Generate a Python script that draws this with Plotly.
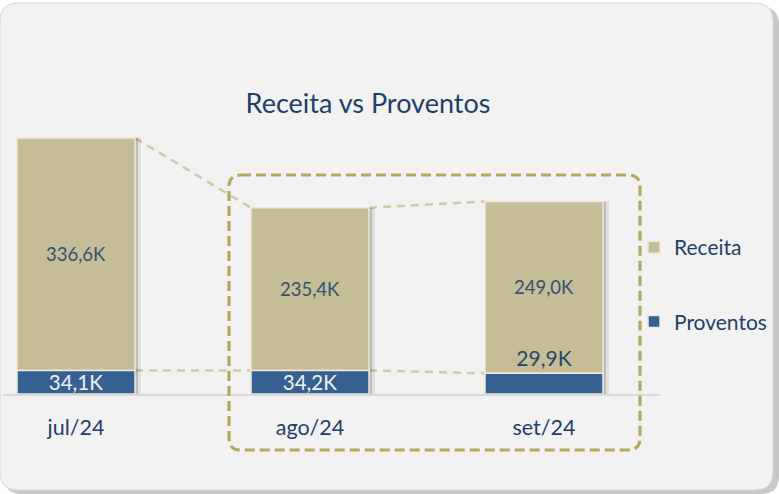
import plotly.graph_objects as go

# ---- data ----
months = ["jul/24", "ago/24", "set/24"]
receita = [336.6, 235.4, 249.0]
proventos = [34.1, 34.2, 29.9]
series_names = ["Receita", "Proventos"]
title_text = "Receita vs Proventos"


def fmt(v):
    return f"{v:.1f}".replace(".", ",") + "K"


totals = [r + p for r, p in zip(receita, proventos)]

# ---- layout geometry ----
W, H = 779, 494
L, R, T, B = 3, 119, 60, 100
PW, PH = W - L - R, H - T - B
CAT_PX = 234.0
BW = 118 / CAT_PX
PX_PER_K = 0.6906

FONT = "Lato, 'Open Sans', sans-serif"
DARK = "#1F3F6A"
LABEL = "#34506F"
TAN = "#C4BD97"
BLUE = "#366092"
EDGE = "#EDE8D5"


def px(x):
    return (x - L) / PW


def py(y):
    return (H - B - y) / PH


def rounded_path(x0, y0, x1, y1, r):
    # pixel coords (y down) -> paper path
    rx, ry = r / PW, r / PH
    a, b = px(x0), px(x1)
    top, bot = py(y0), py(y1)
    return (f"M {a+rx},{top} L {b-rx},{top} Q {b},{top} {b},{top-ry} "
            f"L {b},{bot+ry} Q {b},{bot} {b-rx},{bot} L {a+rx},{bot} "
            f"Q {a},{bot} {a},{bot+ry} L {a},{top-ry} Q {a},{top} {a+rx},{top} Z")


fig = go.Figure()

# soft shadows of the bars
for off, alpha in [(3, 0.16), (6, 0.07)]:
    fig.add_trace(go.Bar(
        x=months, y=totals, width=BW, offset=-BW / 2 + off / CAT_PX,
        marker=dict(color=f"rgba(0,0,0,{alpha})", line=dict(width=0)),
        showlegend=False, hoverinfo="skip"))

fig.add_trace(go.Bar(
    name=series_names[0], x=months, y=receita, base=proventos, width=BW,
    marker=dict(color=TAN, line=dict(color=EDGE, width=1.5)),
    text=[fmt(v) for v in receita], textposition="inside",
    insidetextanchor="middle", constraintext="none", textangle=0,
    insidetextfont=dict(family=FONT, size=18.5, color=LABEL),
    legendgroup="r", legendrank=1))

fig.add_trace(go.Bar(
    name=series_names[1], x=months, y=proventos, width=BW,
    marker=dict(color=BLUE, line=dict(color=EDGE, width=1.5)),
    text=[fmt(v) for v in proventos],
    textposition=["inside", "inside", "outside"],
    insidetextanchor="middle", constraintext="none", textangle=0,
    insidetextfont=dict(family=FONT, size=20.5, color="#F2F2F2"),
    outsidetextfont=dict(family=FONT, size=21, color="#2A4468"),
    cliponaxis=False, legendgroup="p", legendrank=2))

shapes = []
# panel shadow + panel
shapes.append(dict(type="path", xref="paper", yref="paper", layer="below",
                   path=rounded_path(4, 7, 779, 494, 18),
                   fillcolor="#C8C8C8", line=dict(width=0)))
shapes.append(dict(type="path", xref="paper", yref="paper", layer="below",
                   path=rounded_path(0, 3, 773, 490, 18),
                   fillcolor="#F2F2F2", line=dict(color="#D9D9D9", width=1)))

# connector dashed lines between bars
for i in range(len(months) - 1):
    for ys in (totals, proventos):
        shapes.append(dict(type="line", xref="x", yref="y", layer="below",
                           x0=i + BW / 2, y0=ys[i], x1=i + 1 - BW / 2, y1=ys[i + 1],
                           line=dict(color="#D0C9A6", width=2.5, dash="8px,6px")))

# highlight rectangle
shapes.append(dict(type="path", xref="paper", yref="paper", layer="above",
                   path=rounded_path(229, 175, 640, 450, 12),
                   line=dict(color="#B5A85A", width=3.2, dash="10px,5px")))

fig.update_layout(
    width=W, height=H,
    margin=dict(l=L, r=R, t=T, b=B, pad=0),
    paper_bgcolor="white", plot_bgcolor="rgba(0,0,0,0)",
    barmode="overlay",
    shapes=shapes,
    title=dict(text=title_text, x=368 / W, xanchor="center", xref="container",
               y=1 - 104 / H, yanchor="middle", yref="container",
               font=dict(family=FONT, size=27, color=DARK)),
    xaxis=dict(type="category", categoryorder="array", categoryarray=months,
               range=[-76 / CAT_PX + 3 / CAT_PX, (660 - 76) / CAT_PX],
               showline=True, linecolor="#D9D9D9", linewidth=2,
               showgrid=False, zeroline=False, ticks="",
               ticklabelstandoff=13,
               tickfont=dict(family=FONT, size=21.5, color=DARK)),
    yaxis=dict(range=[0, PH / PX_PER_K], visible=False),
    legend=dict(x=px(634), xanchor="left", y=py(227), yanchor="top",
                orientation="v", traceorder="grouped", tracegroupgap=44,
                bgcolor="rgba(0,0,0,0)",
                font=dict(family=FONT, size=21, color=DARK)),
    showlegend=True,
)

fig.write_html("out.html",
               config={"displayModeBar": False},
               post_script="document.body.style.margin='0px';"
                           "document.documentElement.style.overflow='hidden';")
